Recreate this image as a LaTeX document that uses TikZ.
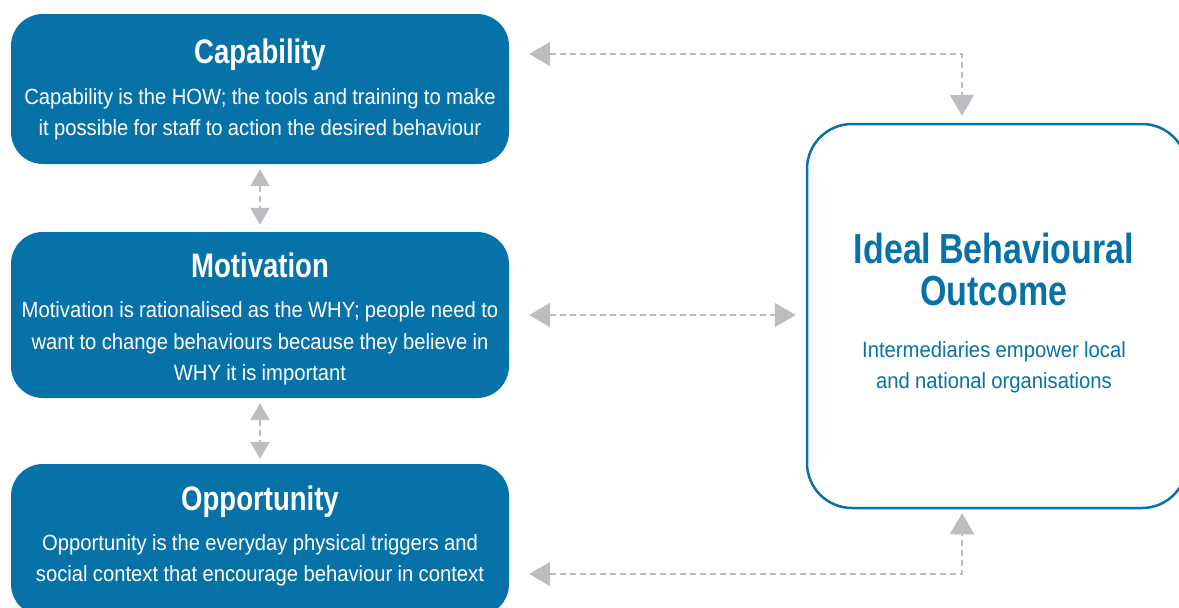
\documentclass[tikz,border=0pt]{standalone}
\usepackage{fontspec}
\setmainfont{Liberation Sans}
\newfontfamily\titlefont{Liberation Sans}[FakeStretch=0.81]
\newfontfamily\bodyfont{Liberation Sans}[FakeStretch=0.92]
\usetikzlibrary{arrows.meta}
\definecolor{cbblue}{HTML}{0772A7}
\definecolor{cgray}{HTML}{BCBDC0}
\tikzset{
  box/.style={fill=cbblue, rounded corners=32pt, minimum width=498pt, inner sep=0pt},
  idealbox/.style={draw=cbblue, line width=2.5pt, fill=white, rounded corners=45pt, inner sep=0pt},
  txt/.style={text=white, text width=520pt, align=center, inner sep=0pt, anchor=base},
  conn/.style={draw=cgray, line width=2pt, dash pattern=on 6pt off 4pt,
    {Triangle[length=21pt,width=24pt]}-{Triangle[length=21pt,width=24pt]}},
  smallconn/.style={draw=cgray, line width=2pt, dash pattern=on 6pt off 4pt,
    {Triangle[length=17pt,width=19pt]}-{Triangle[length=17pt,width=19pt]}},
}
\newcommand{\ttl}[1]{{\titlefont\bfseries\fontsize{34}{34}\selectfont\spaceskip=6.5pt\relax\xspaceskip=6.5pt\relax #1\par}}
\newcommand{\bodyset}[1]{\bodyfont\fontsize{22}{#1}\selectfont\spaceskip=5.3pt\relax\xspaceskip=5.3pt\relax}
\begin{document}
\begin{tikzpicture}[x=1pt,y=-1pt]
\useasboundingbox (0,0) rectangle (1179,608);
\clip (0,0) rectangle (1179,608);
% boxes
\node[box, minimum height=150pt] (cap) at (260,89) {};
\node[box, minimum height=166pt] (mot) at (260,315) {};
\node[box, minimum height=152pt] (opp) at (260,540) {};
\node[idealbox, minimum width=380pt, minimum height=384pt] (ideal) at (997,316) {};
% texts
\node[txt] (captxt) at (260,63) {\ttl{Capability}\vspace{9.5pt}\bodyset{31.5}
  Capability is the HOW; the tools and training to make\\it possible for staff to action the desired behaviour\par};
\node[txt] (mottxt) at (260,277) {\ttl{Motivation}\vspace{9pt}\bodyset{31.5}
  Motivation is rationalised as the WHY; people need to\\want to change behaviours because they believe in\\WHY it is important\par};
\node[txt] (opptxt) at (260,510) {\ttl{Opportunity}\vspace{8.5pt}\bodyset{31.5}
  Opportunity is the everyday physical triggers and\\social context that encourage behaviour in context\par};
\node[txt, text=cbblue] (idealtxt) at (994,263) {{\titlefont\bfseries\fontsize{42}{42}\selectfont\spaceskip=8pt\relax Ideal Behavioural\\Outcome\par}\vspace{21pt}\bodyset{31}
  Intermediaries empower local\\and national organisations\par};
% connectors
\draw[smallconn, shorten <=5pt, shorten >=7pt] (cap.south) -- (mot.north);
\draw[smallconn, shorten <=5pt, shorten >=5pt] (mot.south) -- (opp.north);
\draw[conn, shorten <=20pt, shorten >=10pt] (mot.east) -- (mot.east -| ideal.west);
\draw[conn, shorten <=20pt, shorten >=7pt] ([yshift=35pt]cap.east) -| ([xshift=-35pt]ideal.north);
\draw[conn, shorten <=20pt, shorten >=4pt] ([yshift=-34pt]opp.east) -| ([xshift=-35pt]ideal.south);
\end{tikzpicture}
\end{document}
